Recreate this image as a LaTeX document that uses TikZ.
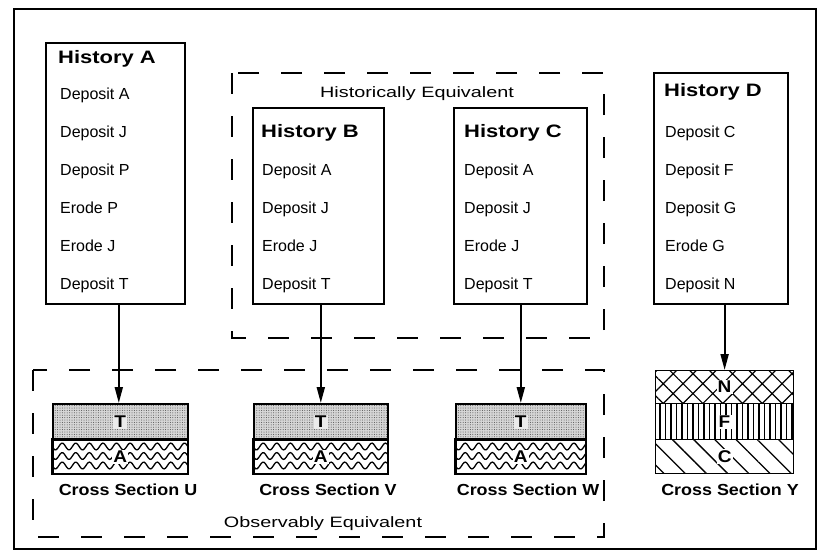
\documentclass[tikz,border=0pt]{standalone}
\usepackage{fontspec}
\setmainfont{Liberation Sans}
\newfontfamily\titlefont[FakeStretch=1.22]{Liberation Sans}
\newfontfamily\labelfont[FakeStretch=1.12]{Liberation Sans}
\newfontfamily\groupfont[FakeStretch=1.32]{Liberation Sans}
\usetikzlibrary{patterns.meta,arrows.meta}
% #1 left x, #2 width, #3 top y
\newcommand{\wavelayer}[3]{%
  \begin{scope}
    \clip (#1,#3) rectangle (#1+#2,#3+34);
    \foreach \r in {0,1,2}{
      \draw[line width=1.3pt] plot[domain=-5:#2+5, samples=110, smooth]
        ({#1+\x},{#3+7.5+9.5*\r+3.4*sin(\x*26.5)});
    }
  \end{scope}}
\begin{document}
\begin{tikzpicture}[x=1pt,y=-1pt,
  hbox/.style={draw, line width=1.6pt, anchor=north west, inner sep=0pt},
  itm/.style={anchor=base west, inner sep=0pt, font=\fontsize{16}{18}\selectfont},
  ttl/.style={anchor=base west, inner sep=0pt, font=\titlefont\fontsize{18}{20}\selectfont\bfseries},
  grp/.style={draw, line width=1.8pt, dash pattern=on 21pt off 22pt},
  grplabel/.style={anchor=base, inner sep=0pt, font=\groupfont\fontsize{15}{17}\selectfont},
  cslabel/.style={anchor=base, inner sep=0pt, font=\labelfont\fontsize{16}{18}\selectfont\bfseries},
  layer/.style={draw, line width=1.6pt, anchor=north west, inner sep=0pt, minimum height=35pt},
  stip/.style={preaction={fill=black!16}, pattern={Dots[distance=2.4pt,radius=0.5pt]}, pattern color=black!70},
  lett/.style={fill=white, inner sep=1.2pt, font=\labelfont\fontsize{17}{18}\selectfont\bfseries},
  arr/.style={line width=1.9pt, -{Triangle[length=16pt,width=8pt]}}
]
\useasboundingbox (0,0) rectangle (821,552);
\draw[line width=1.2pt] (14,9) rectangle (816,549);

% dashed groups
\draw[grp] (232,73) rectangle (604,338);
\node[grplabel] (heq) at (417,97) {Historically Equivalent};
\draw[grp] (33,370) rectangle (604,537);
\node[grplabel] (oeq) at (323,527) {Observably Equivalent};

% History A
\node[hbox, minimum width=139pt, minimum height=261pt] (hA) at (45,42) {};
\node[ttl] (hAt) at (58,63.5) {History A};
\node[itm] (hA1) at (60,99) {Deposit A};
\node[itm] (hA2) at (60,137) {Deposit J};
\node[itm] (hA3) at (60,175) {Deposit P};
\node[itm] (hA4) at (60,213) {Erode P};
\node[itm] (hA5) at (60,251) {Erode J};
\node[itm] (hA6) at (60,289) {Deposit T};

% History B
\node[hbox, minimum width=131pt, minimum height=196pt] (hB) at (252,107) {};
\node[ttl] (hBt) at (261,137.5) {History B};
\node[itm] (hB1) at (262,175) {Deposit A};
\node[itm] (hB2) at (262,213) {Deposit J};
\node[itm] (hB3) at (262,251) {Erode J};
\node[itm] (hB4) at (262,289) {Deposit T};

% History C
\node[hbox, minimum width=133pt, minimum height=196pt] (hC) at (453,107) {};
\node[ttl] (hCt) at (464,137.5) {History C};
\node[itm] (hC1) at (464,175) {Deposit A};
\node[itm] (hC2) at (464,213) {Deposit J};
\node[itm] (hC3) at (464,251) {Erode J};
\node[itm] (hC4) at (464,289) {Deposit T};

% History D
\node[hbox, minimum width=134pt, minimum height=231pt] (hD) at (653,72) {};
\node[ttl] (hDt) at (664,96.5) {History D};
\node[itm] (hD1) at (665,137) {Deposit C};
\node[itm] (hD2) at (665,175) {Deposit F};
\node[itm] (hD3) at (665,213) {Deposit G};
\node[itm] (hD4) at (665,251) {Erode G};
\node[itm] (hD5) at (665,289) {Deposit N};

% Cross section U
\node[layer, stip, minimum width=135pt, minimum height=36pt] (uT) at (52,403) {};
\node[layer, minimum width=135pt, minimum height=34pt] (uA) at (52,439) {};
\wavelayer{52}{135}{439}
\draw[line width=1.6pt] (uA.north west) rectangle (uA.south east);
\node[lett, fill=black!8] (uTl) at (uT.center) {T};
\node[lett] (uAl) at (uA.center) {A};
\node[cslabel] (uL) at (128,495) {Cross Section U};
\coordinate (uIn) at ([xshift=-1.5pt]uT.north);

% Cross section V
\node[layer, stip, minimum width=134pt, minimum height=36pt] (vT) at (253,403) {};
\node[layer, minimum width=134pt, minimum height=34pt] (vA) at (253,439) {};
\wavelayer{253}{134}{439}
\draw[line width=1.6pt] (vA.north west) rectangle (vA.south east);
\node[lett, fill=black!8] (vTl) at (vT.center) {T};
\node[lett] (vAl) at (vA.center) {A};
\node[cslabel] (vL) at (328,495) {Cross Section V};

% Cross section W
\node[layer, stip, minimum width=130pt, minimum height=36pt] (wT) at (455,403) {};
\node[layer, minimum width=130pt, minimum height=34pt] (wA) at (455,439) {};
\wavelayer{455}{130}{439}
\draw[line width=1.6pt] (wA.north west) rectangle (wA.south east);
\node[lett, fill=black!8] (wTl) at (wT.center) {T};
\node[lett] (wAl) at (wA.center) {A};
\node[cslabel] (wL) at (528,495) {Cross Section W};

% Cross section Y
\node[layer, pattern={Hatch[angle=45,distance=14pt,line width=1.2pt]}, minimum width=138pt, minimum height=33pt] (yN) at (655,370) {};
\node[layer, pattern={Lines[angle=90,distance=5.5pt,line width=1.1pt]}, minimum width=138pt, minimum height=36pt] (yF) at (655,403) {};
\node[layer, pattern={Lines[angle=-45,distance=15pt,line width=1.3pt]}, minimum width=138pt, minimum height=34pt] (yC) at (655,439) {};
\node[lett] (yNl) at (yN.center) {N};
\node[lett] (yFl) at (yF.center) {F};
\node[lett] (yCl) at (yC.center) {C};
\node[cslabel] (yL) at (730,495) {Cross Section Y};

% arrows
\draw[arr] (hA.south -| uIn) -- (uIn);
\draw[arr] (hB.south -| vT.north) -- (vT.north);
\draw[arr] (hC.south -| wT.north) -- (wT.north);
\draw[arr] (hD.south -| yN.north) -- (yN.north);
\end{tikzpicture}
\end{document}
